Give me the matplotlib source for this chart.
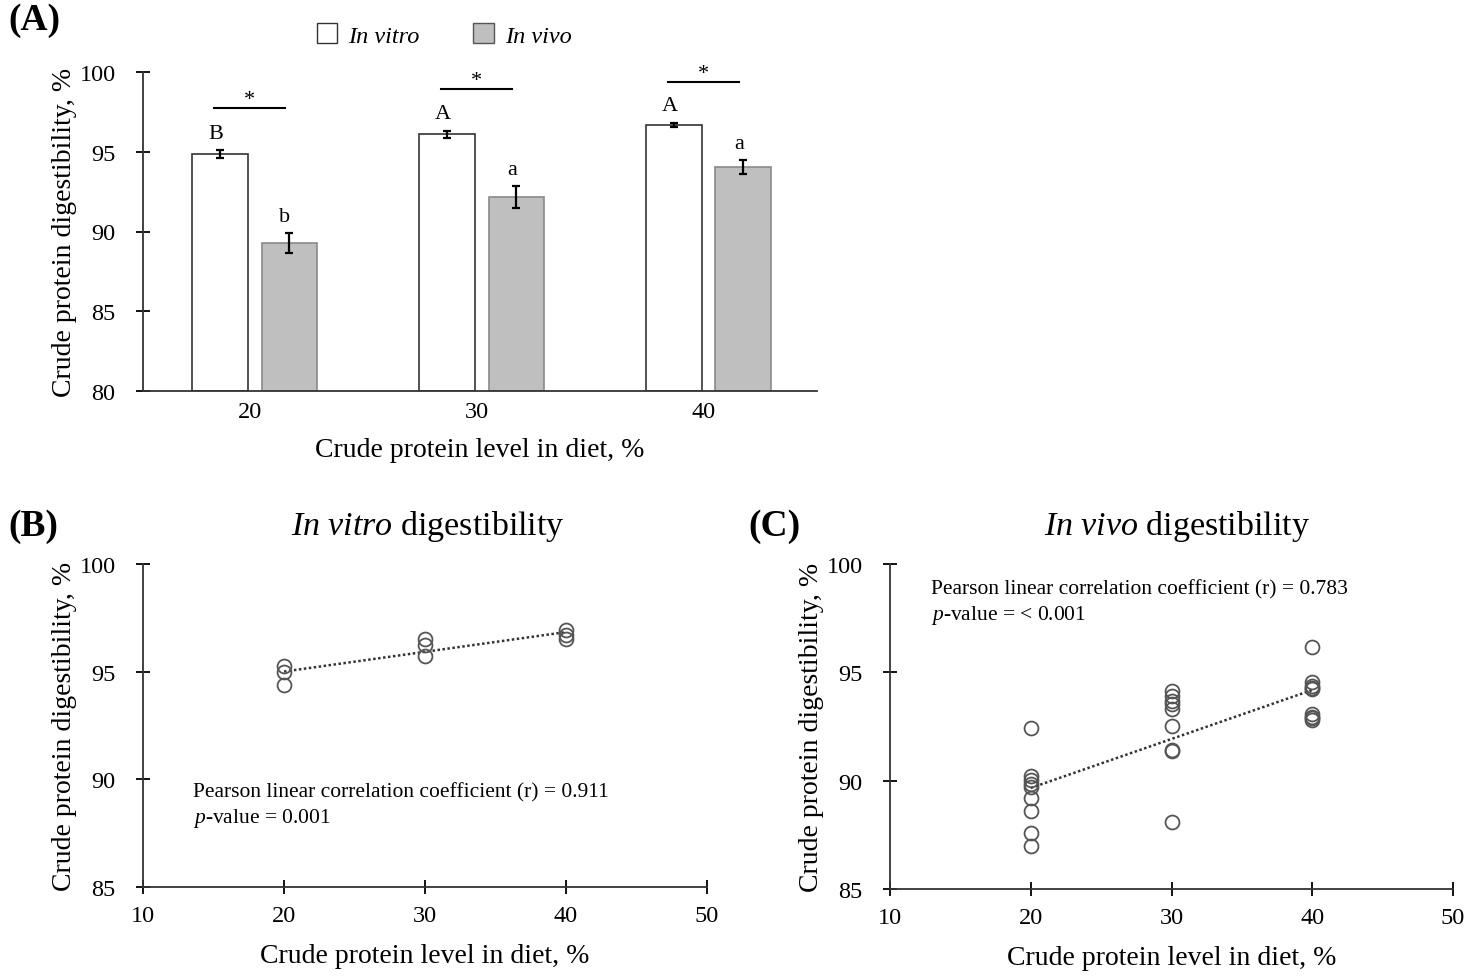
import numpy as np
import matplotlib
matplotlib.use("Agg")
import matplotlib.pyplot as plt
from matplotlib.patches import Patch
from matplotlib.font_manager import FontProperties

# ---------------- data ----------------
levels = [20, 30, 40]
invitro_mean = [94.86, 96.11, 96.68]
invitro_err = [0.25, 0.22, 0.15]
invivo_mean = [89.28, 92.16, 94.04]
invivo_err = [0.6, 0.7, 0.42]
invitro_letters = ["B", "A", "A"]
invivo_letters = ["b", "a", "a"]
sig_line_y = [97.74, 98.93, 99.37]

# panel B raw points (in vitro)
b_x = [20, 20, 20, 30, 30, 30, 40, 40, 40]
b_y = [95.25, 95.0, 94.4, 96.5, 96.25, 95.75, 96.95, 96.7, 96.5]

# panel C raw points (in vivo)
c_x = [20] * 9 + [30] * 9 + [40] * 9
c_y = [92.43, 90.23, 90.03, 89.85, 89.69, 89.19, 88.62, 87.59, 87.0,
       94.15, 93.92, 93.69, 93.54, 93.31, 92.51, 91.42, 91.38, 88.08,
       96.16, 94.54, 94.38, 94.3, 94.23, 93.08, 92.93, 92.88, 92.82]

b_text = ["Pearson linear correlation coefficient (r) = 0.911", r"$p$-value = 0.001"]
c_text = ["Pearson linear correlation coefficient (r) = 0.783", r"$p$-value = < 0.001"]

# ---------------- style ----------------
plt.rcParams["font.family"] = ["Liberation Serif", "DejaVu Serif"]
plt.rcParams["mathtext.fontset"] = "custom"
plt.rcParams["mathtext.rm"] = "Liberation Serif"
plt.rcParams["mathtext.it"] = "Liberation Serif:italic"
plt.rcParams["axes.linewidth"] = 1.3
plt.rcParams["xtick.major.width"] = 1.3
plt.rcParams["ytick.major.width"] = 1.3
plt.rcParams["axes.edgecolor"] = "#333333"

W, H = 1472, 978
fig = plt.figure(figsize=(W / 100, H / 100), dpi=100)

def ax_px(l, t, r, b):
    return fig.add_axes([l / W, 1 - b / H, (r - l) / W, (b - t) / H])

TICK = 17.5
LAB = 20

# ---------------- Panel A ----------------
axA = ax_px(143, 73, 817, 392)
pos = np.arange(len(levels))
bw = 0.245
xv = pos - 0.13
xi = pos + 0.175
axA.bar(xv, [m - 80 for m in invitro_mean], bottom=80, width=bw, color="white",
        edgecolor="#333333", linewidth=1.2, zorder=2)
axA.bar(xi, [m - 80 for m in invivo_mean], bottom=80, width=bw, color="#bfbfbf",
        edgecolor="#8a8a8a", linewidth=1.2, zorder=2)
axA.errorbar(xv, invitro_mean, yerr=invitro_err, fmt="none", ecolor="black",
             elinewidth=1.6, capsize=3, capthick=1.6, zorder=3)
axA.errorbar(xi, invivo_mean, yerr=invivo_err, fmt="none", ecolor="black",
             elinewidth=1.6, capsize=3, capthick=1.6, zorder=3)
for i in range(len(levels)):
    axA.text(xv[i] - 0.02, invitro_mean[i] + invitro_err[i] + 0.45, invitro_letters[i],
             ha="center", va="bottom", fontsize=16)
    axA.text(xi[i] - 0.02, invivo_mean[i] + invivo_err[i] + 0.45, invivo_letters[i],
             ha="center", va="bottom", fontsize=16)
    axA.plot([pos[i] - 0.155, pos[i] + 0.155], [sig_line_y[i]] * 2, color="black",
             lw=1.5, clip_on=False)
    axA.text(pos[i], sig_line_y[i] - 0.05, "*", ha="center", va="bottom", fontsize=16)
axA.set_xlim(-0.47, 2.5)
axA.set_ylim(80, 100)
axA.set_yticks([80, 85, 90, 95, 100])
axA.set_xticks(pos)
axA.set_xticklabels([str(v) for v in levels])
axA.tick_params(axis="x", length=0, labelsize=TICK, pad=7)
axA.tick_params(axis="y", direction="inout", length=9.5, labelsize=TICK, pad=15)
axA.spines["top"].set_visible(False)
axA.spines["right"].set_visible(False)
axA.set_xlabel("Crude protein level in diet, %", fontsize=LAB, labelpad=11)
axA.set_ylabel("Crude protein digestibility, %", fontsize=LAB, labelpad=2)

leg_font = FontProperties(family="Liberation Serif", style="italic", size=17.5)
handles = [Patch(facecolor="white", edgecolor="#333333", label="In vitro"),
           Patch(facecolor="#bfbfbf", edgecolor="#555555", label="In vivo")]
fig.legend(handles=handles, loc="center", bbox_to_anchor=(444 / W, 1 - 36 / H),
           ncol=2, frameon=False, prop=leg_font, handlelength=0.85, handleheight=0.85,
           handletextpad=0.45, columnspacing=2.2)

fig.text(8 / W, 1 - 20 / H, "(A)", fontsize=27, fontweight="bold", ha="left", va="center")

# ---------------- scatter panels ----------------
def scatter_panel(ax, xs, ys, notes, note_xy):
    ax.plot(xs, ys, linestyle="none", marker="o", markersize=10, markerfacecolor="none",
            markeredgecolor="#555555", markeredgewidth=1.3, zorder=3)
    k, b = np.polyfit(xs, ys, 1)
    xl = np.array([min(xs), max(xs)])
    ax.plot(xl, k * xl + b, linestyle=(0, (1, 1)), color="#333333", lw=1.8, zorder=2)
    ax.set_xlim(10, 50)
    ax.set_ylim(85, 100)
    ax.set_xticks([10, 20, 30, 40, 50])
    ax.set_yticks([85, 90, 95, 100])
    ax.tick_params(axis="x", direction="inout", length=10, labelsize=TICK, pad=8)
    ax.tick_params(axis="y", direction="inout", length=9.5, labelsize=TICK, pad=15)
    ax.spines["top"].set_visible(False)
    ax.spines["right"].set_visible(False)
    ax.set_xlabel("Crude protein level in diet, %", fontsize=LAB, labelpad=12)
    ax.set_ylabel("Crude protein digestibility, %", fontsize=LAB, labelpad=2)
    (nx, ny1, ny2) = note_xy
    ax.text(nx, ny1, notes[0], fontsize=15.5, ha="left", va="center")
    ax.text(nx, ny2, notes[1], fontsize=15.5, ha="left", va="center")

axB = ax_px(143, 565, 707, 888)
scatter_panel(axB, b_x, b_y, b_text, (13.55, 89.41, 88.25))
axC = ax_px(890, 565, 1453, 890)
scatter_panel(axC, c_x, c_y, c_text, (12.9, 98.85, 97.69))

fig.text(428 / W, 1 - 527 / H, r"$\mathit{In\ vitro}$ digestibility", fontsize=24.5,
         ha="center", va="center")
fig.text(1177 / W, 1 - 527 / H, r"$\mathit{In\ vivo}$ digestibility", fontsize=24.5,
         ha="center", va="center")
fig.text(8 / W, 1 - 527 / H, "(B)", fontsize=27, fontweight="bold", ha="left", va="center")
fig.text(748 / W, 1 - 527 / H, "(C)", fontsize=27, fontweight="bold", ha="left", va="center")

fig.savefig("out.png", dpi=100)
